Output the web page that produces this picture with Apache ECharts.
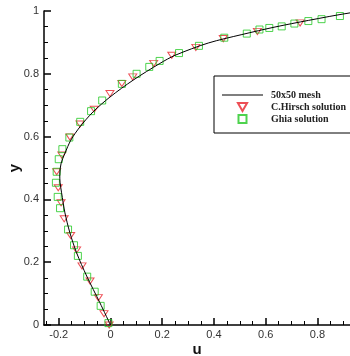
<!DOCTYPE html>
<html>
<head>
<meta charset="utf-8">
<script src="https://cdn.jsdelivr.net/npm/echarts@6/dist/echarts.min.js"></script>
<style>html,body{margin:0;padding:0;background:#fff}#c{width:350px;height:356px}</style>
</head>
<body>
<div id="c"></div>
<script>
// ---- data ----
var meshU = [0, -0.041, -0.092, -0.131, -0.157, -0.176, -0.189, -0.195, -0.196, -0.191, -0.176, -0.153, -0.118, -0.067, -0.002, 0.088, 0.191, 0.25, 0.378, 0.508, 0.636, 0.765, 0.926, 1.0];
var meshY = [0, 0.071, 0.156, 0.230, 0.294, 0.357, 0.421, 0.455, 0.480, 0.514, 0.547, 0.589, 0.631, 0.679, 0.726, 0.780, 0.833, 0.859, 0.898, 0.925, 0.949, 0.970, 0.994, 1.0];

var hirschU = [-0.005, -0.025, -0.047, -0.079, -0.110, -0.131, -0.154, -0.179, -0.191, -0.202, -0.208, -0.188, -0.157, -0.118, -0.063, -0.002, 0.044, 0.086, 0.167, 0.237, 0.330, 0.436, 0.568, 0.733];
var hirschY = [0.000, 0.036, 0.087, 0.140, 0.188, 0.239, 0.285, 0.338, 0.389, 0.437, 0.488, 0.541, 0.599, 0.640, 0.687, 0.737, 0.769, 0.790, 0.833, 0.859, 0.884, 0.912, 0.935, 0.962];

var ghiaU = [-0.008, -0.038, -0.061, -0.090, -0.126, -0.141, -0.164, -0.195, -0.204, -0.211, -0.208, -0.200, -0.186, -0.159, -0.117, -0.075, -0.032, 0.044, 0.101, 0.150, 0.190, 0.265, 0.342, 0.440, 0.527, 0.576, 0.614, 0.662, 0.711, 0.765, 0.816, 0.887];
var ghiaY = [0.006, 0.061, 0.106, 0.154, 0.220, 0.254, 0.304, 0.372, 0.408, 0.453, 0.488, 0.528, 0.560, 0.597, 0.647, 0.681, 0.715, 0.768, 0.800, 0.822, 0.841, 0.866, 0.889, 0.915, 0.928, 0.941, 0.946, 0.951, 0.960, 0.968, 0.974, 0.984];

var xMajorTicks = [-0.2, 0, 0.2, 0.4, 0.6, 0.8];
var xMinorTicks = [-0.25, -0.15, -0.1, -0.05, 0.05, 0.1, 0.15, 0.25, 0.3, 0.35, 0.45, 0.5, 0.55, 0.65, 0.7, 0.75, 0.85, 0.9];
var seriesNames = ['50x50 mesh', 'C.Hirsch solution', 'Ghia solution'];

function zip(a, b) { return a.map(function (v, i) { return [v, b[i]]; }); }

var chart = echarts.init(document.getElementById('c'), null, {renderer: 'canvas'});
var axisLineStyle = {color: '#000', width: 1.5};
var labelStyle = {color: '#333', fontSize: 11, fontFamily: 'Liberation Sans, Arial, sans-serif'};
var nameStyle = {fontSize: 15, fontWeight: 'bold', color: '#111', fontFamily: 'Liberation Sans, Arial, sans-serif'};
var triPath = 'path://M0,0L8,0L4,7Z';
var sqPath = 'path://M0,0L7,0L7,7L0,7Z';
var X_MIN = -0.257, X_MAX = 0.926;
chart.setOption({
  animation: false,
  backgroundColor: '#fff',
  grid: {left: 44, right: 0, top: 11, bottom: 31, containLabel: false, outerBoundsMode: 'none'},
  xAxis: [{
    type: 'value', min: X_MIN, max: X_MAX,
    name: 'u', nameLocation: 'middle', nameGap: 17, nameMoveOverlap: false,
    nameTextStyle: nameStyle,
    axisLine: {show: true, onZero: false, lineStyle: axisLineStyle},
    axisTick: {show: true, inside: true, length: 7, customValues: xMajorTicks, lineStyle: {color: '#000', width: 1.5}},
    axisLabel: Object.assign({margin: 4, customValues: xMajorTicks}, labelStyle),
    splitLine: {show: false}
  }, {
    type: 'value', min: X_MIN, max: X_MAX, position: 'bottom',
    axisLine: {show: false, onZero: false},
    axisTick: {show: true, inside: true, length: 4, customValues: xMinorTicks, lineStyle: {color: '#000', width: 1}},
    axisLabel: {show: false},
    splitLine: {show: false}
  }],
  yAxis: {
    type: 'value', min: 0, max: 1, interval: 0.2,
    name: 'y', nameLocation: 'middle', nameGap: 22, nameMoveOverlap: false,
    nameTextStyle: nameStyle,
    axisLine: {show: true, onZero: false, lineStyle: axisLineStyle},
    axisTick: {show: true, inside: true, length: 7, lineStyle: {color: '#000', width: 1.5}},
    minorTick: {show: true, splitNumber: 4, length: 4, lineStyle: {color: '#000', width: 1}},
    axisLabel: Object.assign({margin: 5}, labelStyle),
    splitLine: {show: false}
  },
  legend: {
    orient: 'vertical', left: 214, top: 76,
    padding: [14, 20, 9, 8],
    itemWidth: 41, itemHeight: 8, itemGap: 2,
    borderColor: '#000', borderWidth: 1,
    textStyle: {fontSize: 10, fontWeight: 'bold', color: '#222', fontFamily: 'Liberation Serif, DejaVu Serif, serif', padding: [0, 0, 0, 3]},
    data: [
      {name: seriesNames[0], icon: 'path://M0,0L41,0L41,1L0,1Z', itemStyle: {color: '#000', borderWidth: 0}},
      {name: seriesNames[1]},
      {name: seriesNames[2]}
    ]
  },
  series: [{
    name: seriesNames[0], type: 'line', xAxisIndex: 0,
    data: zip(meshU, meshY), symbol: 'none', showSymbol: false, smooth: 0.3,
    lineStyle: {color: '#000', width: 1}, itemStyle: {color: '#000'}
  }, {
    name: seriesNames[1], type: 'scatter', xAxisIndex: 0,
    data: zip(hirschU, hirschY),
    symbol: triPath, symbolSize: [8, 7], symbolKeepAspect: true,
    itemStyle: {color: 'rgba(0,0,0,0)', borderColor: '#e8222a', borderWidth: 1}
  }, {
    name: seriesNames[2], type: 'scatter', xAxisIndex: 0,
    data: zip(ghiaU, ghiaY),
    symbol: sqPath, symbolSize: [7, 7], symbolKeepAspect: true,
    itemStyle: {color: 'rgba(0,0,0,0)', borderColor: '#22c822', borderWidth: 1}
  }]
});
</script>
</body>
</html>
